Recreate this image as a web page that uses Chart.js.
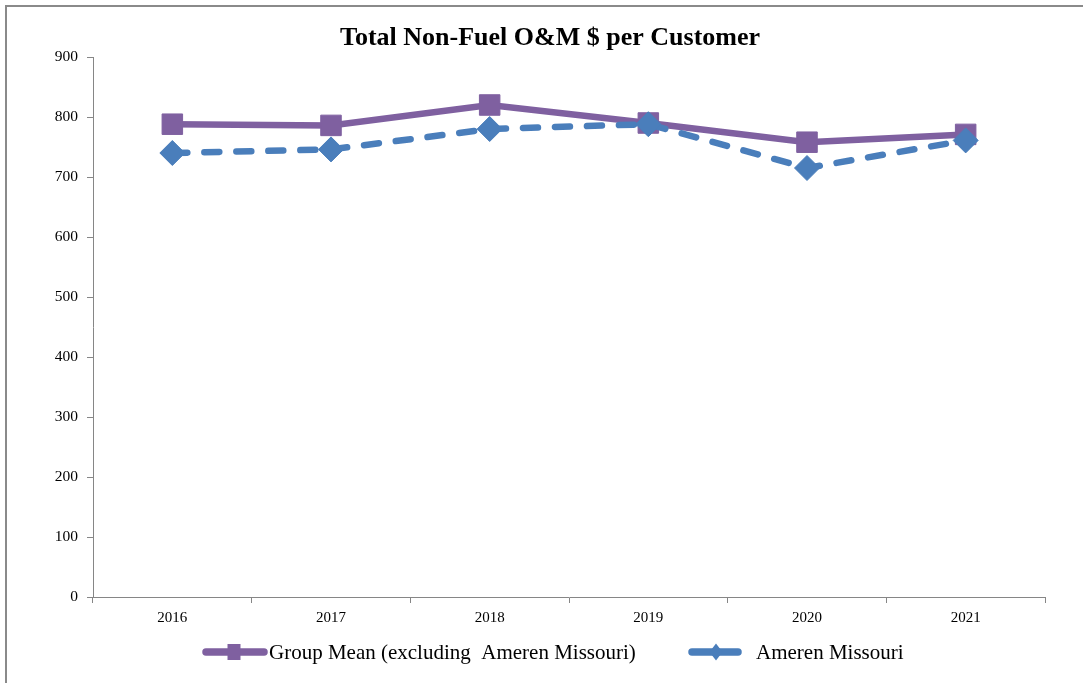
<!DOCTYPE html>
<html>
<head>
<meta charset="utf-8">
<script src="https://cdn.jsdelivr.net/npm/chart.js@4/dist/chart.umd.min.js"></script>
<style>
html,body{margin:0;padding:0;background:#fff;}
#wrap{width:1083px;height:683px;position:relative;}
</style>
</head>
<body>
<div id="wrap"><canvas id="c" width="1083" height="683"></canvas></div>
<script>
const chartTitle = 'Total Non-Fuel O&M $ per Customer';
const categories = ['2016','2017','2018','2019','2020','2021'];
const groupMeanLabel = 'Group Mean (excluding  Ameren Missouri)';
const groupMean = [788, 786, 820, 790, 758, 771];
const amerenLabel = 'Ameren Missouri';
const ameren = [740, 746, 780, 788, 715, 761];
const yTicks = [0,100,200,300,400,500,600,700,800,900];

const PURPLE = '#7F60A0';
const BLUE = '#4A7EBB';
const SERIF = '"Liberation Serif", "DejaVu Serif", serif';

// legend layout: [line start, line end, text start]
const legendSlots = [[206, 264, 269], [692, 738, 756]];

function drawLegendMarker(ctx, style, x, y, color){
  ctx.save();
  ctx.fillStyle = color;
  ctx.beginPath();
  if(style === 'rect'){
    ctx.rect(x - 6.5, y - 8, 13, 16);
  } else {
    ctx.moveTo(x, y - 8.5); ctx.lineTo(x + 6.5, y); ctx.lineTo(x, y + 8.5); ctx.lineTo(x - 6.5, y); ctx.closePath();
  }
  ctx.fill();
  ctx.restore();
}

const framePlugin = {
  id: 'frame',
  beforeDraw(chart){
    const ctx = chart.ctx;
    ctx.save();
    ctx.fillStyle = '#fff';
    ctx.fillRect(0,0,chart.width,chart.height);
    ctx.strokeStyle = '#8a8a8a';
    ctx.lineWidth = 2;
    ctx.beginPath();
    ctx.moveTo(6, chart.height);
    ctx.lineTo(6, 6);
    ctx.lineTo(chart.width, 6);
    ctx.stroke();
    ctx.restore();
  },
  afterDraw(chart){
    const ctx = chart.ctx;
    ctx.save();
    // title
    ctx.fillStyle = '#000';
    ctx.font = 'bold 26px ' + SERIF;
    ctx.textAlign = 'center';
    ctx.textBaseline = 'middle';
    ctx.fillText(chartTitle, 550, 38);
    // legend
    ctx.font = '21px ' + SERIF;
    ctx.textAlign = 'left';
    chart.data.datasets.forEach((ds, i) => {
      const [x0, x1, tx] = legendSlots[i];
      const y = 652;
      ctx.strokeStyle = ds.borderColor;
      ctx.lineWidth = 7.5;
      ctx.lineCap = 'round';
      ctx.setLineDash([]);
      ctx.beginPath();
      ctx.moveTo(x0, y); ctx.lineTo(x1, y);
      ctx.stroke();
      drawLegendMarker(ctx, ds.pointStyle, (x0 + x1)/2 + (i === 0 ? -1 : 1), y, ds.pointBackgroundColor);
      ctx.fillStyle = '#000';
      ctx.fillText(ds.label, tx, y + 1);
    });
    ctx.restore();
  }
};

new Chart(document.getElementById('c'), {
  type: 'line',
  data: {
    labels: categories,
    datasets: [
      {
        label: groupMeanLabel,
        data: groupMean,
        borderColor: PURPLE,
        backgroundColor: PURPLE,
        pointBackgroundColor: PURPLE,
        pointBorderColor: PURPLE,
        borderWidth: 6.5,
        pointStyle: 'rect',
        pointRadius: 14.5,
        pointBorderWidth: 1,
        tension: 0,
        order: 2
      },
      {
        label: amerenLabel,
        data: ameren,
        borderColor: BLUE,
        backgroundColor: BLUE,
        pointBackgroundColor: BLUE,
        pointBorderColor: BLUE,
        borderWidth: 6.5,
        borderDash: [15, 17],
        borderCapStyle: 'round',
        pointStyle: 'rectRot',
        pointRadius: 12.5,
        pointBorderWidth: 1,
        tension: 0,
        order: 1
      }
    ]
  },
  options: {
    responsive: false,
    animation: false,
    layout: { padding: { top: 57, right: 38, bottom: 0, left: 0 } },
    plugins: {
      legend: { display: false },
      title: { display: false },
      tooltip: { enabled: false }
    },
    scales: {
      x: {
        type: 'category',
        offset: true,
        grid: { display: true, offset: true, drawOnChartArea: false, drawTicks: true, tickLength: 6, color: '#868686', lineWidth: 1 },
        border: { display: true, color: '#868686', width: 1 },
        ticks: { color: '#000', font: { family: SERIF, size: 15 }, padding: 6, maxRotation: 0 },
        afterFit(scale){ scale.height = 86; }
      },
      y: {
        min: 0,
        max: 900,
        afterBuildTicks(scale){ scale.ticks = yTicks.map(v => ({value: v})); },
        grid: { display: true, drawOnChartArea: false, drawTicks: true, tickLength: 6, color: '#868686', lineWidth: 1 },
        border: { display: true, color: '#868686', width: 1 },
        ticks: { color: '#000', font: { family: SERIF, size: 15.5 }, padding: 9 },
        afterFit(scale){ scale.width = 93; }
      }
    }
  },
  plugins: [framePlugin]
});
</script>
</body>
</html>
